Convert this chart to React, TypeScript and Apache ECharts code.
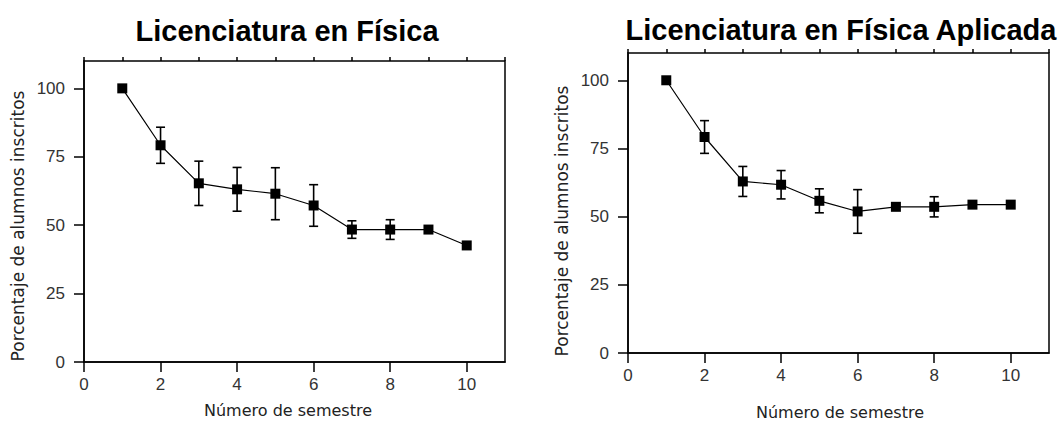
import React, { useEffect, useRef } from "react";
import * as echarts from "echarts";

const semesters = [1, 2, 3, 4, 5, 6, 7, 8, 9, 10];
const fisicaMean = [100, 79.2, 65.3, 63.1, 61.5, 57.2, 48.4, 48.4, 48.4, 42.6];
const fisicaErr = [0, 6.6, 8.1, 8.0, 9.5, 7.6, 3.2, 3.6, 0, 0];
const aplicadaMean = [100, 79.2, 62.9, 61.7, 55.8, 51.9, 53.6, 53.6, 54.4, 54.4];
const aplicadaErr = [0, 6.0, 5.5, 5.2, 4.4, 8.0, 0, 3.7, 0, 0];
const titles = ["Licenciatura en Física", "Licenciatura en Física Aplicada"];
const xName = "Número de semestre";
const yName = "Porcentaje de alumnos inscritos";

const LABEL_FONT = "'Liberation Sans', Arial, sans-serif";
const NAME_FONT = "'DejaVu Sans', Verdana, sans-serif";

function errRender(params: any, api: any) {
  const x = api.value(0);
  const y = api.value(1);
  const e = api.value(2);
  if (!e) return null;
  const top = api.coord([x, y + e]);
  const bot = api.coord([x, y - e]);
  const hw = 4.5;
  const st = { stroke: "#000", lineWidth: 1.6 };
  return {
    type: "group",
    children: [
      { type: "line", shape: { x1: top[0], y1: top[1], x2: bot[0], y2: bot[1] }, style: st },
      { type: "line", shape: { x1: top[0] - hw, y1: top[1], x2: top[0] + hw, y2: top[1] }, style: st },
      { type: "line", shape: { x1: bot[0] - hw, y1: bot[1], x2: bot[0] + hw, y2: bot[1] }, style: st },
    ],
  };
}

export default function App() {
  const ref = useRef<HTMLDivElement>(null);
  useEffect(() => {
    if (!ref.current) return;
    const chart = echarts.init(ref.current, null, { renderer: "svg" });
    const grids = [
      { left: 84, top: 61, width: 421, height: 301 },
      { left: 628, top: 53, width: 421, height: 300 },
    ];
    const xAxes: any[] = [];
    const yAxes: any[] = [];
    grids.forEach((g, i) => {
      xAxes.push({
        type: "value",
        gridIndex: i,
        min: 0,
        max: 11,
        interval: 2,
        axisLine: { show: true, lineStyle: { color: "#000", width: 1.5 } },
        axisTick: { show: true, length: 10, lineStyle: { color: "#000", width: 1.5 } },
        axisLabel: {
          showMaxLabel: false,
          margin: 14,
          fontSize: 17,
          color: "#333",
          fontFamily: LABEL_FONT,
        },
        splitLine: { show: false },
      });
      xAxes.push({
        type: "value",
        gridIndex: i,
        min: 0,
        max: 11,
        interval: 1,
        axisLine: { show: false },
        axisTick: { show: true, length: 4, lineStyle: { color: "#000", width: 1.5 } },
        axisLabel: { show: false },
        splitLine: { show: false },
      });
      yAxes.push({
        type: "value",
        gridIndex: i,
        min: 0,
        max: 110,
        interval: 25,
        axisLine: { show: true, lineStyle: { color: "#000", width: 1.5 } },
        axisTick: { show: true, length: 10, lineStyle: { color: "#000", width: 1.5 } },
        axisLabel: {
          showMaxLabel: false,
          margin: 19,
          fontSize: 17,
          color: "#333",
          fontFamily: LABEL_FONT,
        },
        splitLine: { show: false },
      });
    });
    const datasets = [
      { mean: fisicaMean, err: fisicaErr },
      { mean: aplicadaMean, err: aplicadaErr },
    ];
    const series: any[] = [];
    datasets.forEach((d, i) => {
      series.push({
        type: "custom",
        xAxisIndex: i * 2,
        yAxisIndex: i,
        renderItem: errRender,
        encode: { x: 0, y: 1 },
        data: semesters.map((s, k) => [s, d.mean[k], d.err[k]]),
        z: 3,
      });
      series.push({
        type: "line",
        xAxisIndex: i * 2,
        yAxisIndex: i,
        data: semesters.map((s, k) => [s, d.mean[k]]),
        symbol: "rect",
        symbolSize: 10,
        itemStyle: { color: "#000" },
        lineStyle: { color: "#000", width: 1.2 },
        z: 4,
      });
    });
    const graphic: any[] = [];
    const titleX = [287, 841];
    const titleY = [31, 30];
    const xNameX = [288, 840];
    const xNameY = [410, 412];
    const yNameX = [18, 562];
    const yNameY = [226, 221];
    grids.forEach((g, i) => {
      graphic.push({
        type: "text",
        x: titleX[i],
        y: titleY[i],
        style: {
          text: titles[i],
          fill: "#000",
          font: `bold 29px ${LABEL_FONT}`,
          textAlign: "center",
          textVerticalAlign: "middle",
        },
      });
      graphic.push({
        type: "text",
        x: xNameX[i],
        y: xNameY[i],
        style: {
          text: xName,
          fill: "#222",
          font: `16px ${NAME_FONT}`,
          textAlign: "center",
          textVerticalAlign: "middle",
        },
      });
      graphic.push({
        type: "text",
        x: yNameX[i],
        y: yNameY[i],
        rotation: Math.PI / 2,
        style: {
          text: yName,
          fill: "#222",
          font: `17px ${NAME_FONT}`,
          textAlign: "center",
          textVerticalAlign: "middle",
        },
      });
    });
    chart.setOption({
      animation: false,
      backgroundColor: "#fff",
      grid: grids.map((g) => ({ ...g, show: true, borderColor: "#000", borderWidth: 1.5, backgroundColor: "transparent" })),
      xAxis: xAxes,
      yAxis: yAxes,
      series,
      graphic,
    });
    return () => chart.dispose();
  }, []);
  return (
    <div
      ref={ref}
      style={{ position: "absolute", left: 0, top: 0, width: 1062, height: 422 }}
    />
  );
}
